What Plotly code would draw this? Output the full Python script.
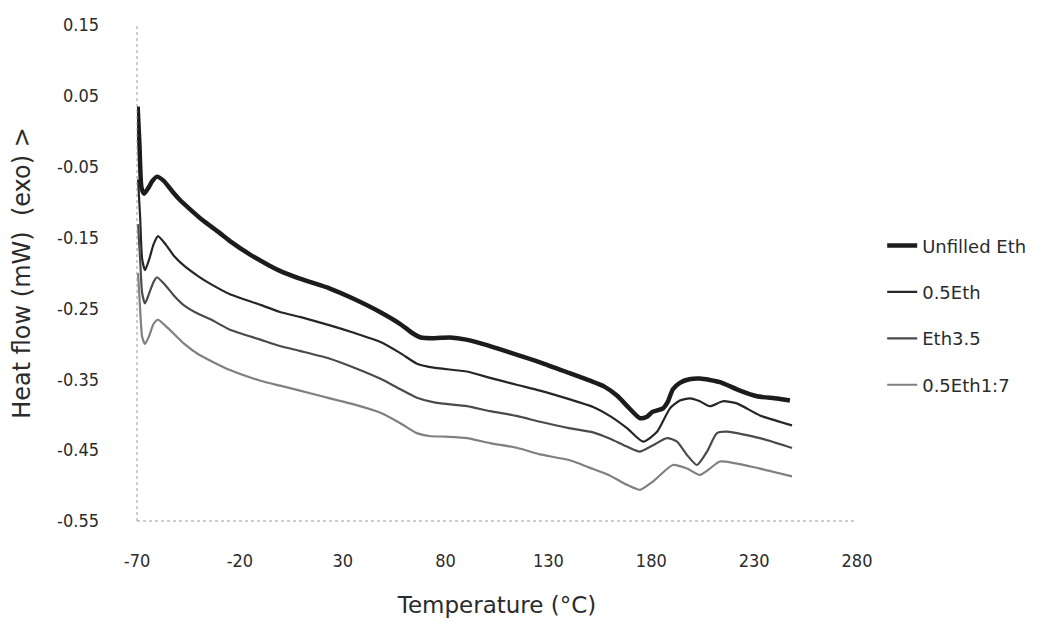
import plotly.graph_objects as go

# ---- data ----
unfilled_T = [-69.7, -68.8, -67.8, -66.5, -64.5, -62.5, -60.3, -57.0, -52.5, -49.1, -45.0, -37.9, -30.0, -24.8,
              -15.0, -5.3, -0.5, 9.2, 23.8, 35.0, 48.1, 58.0, 64.0, 68.0, 74.0, 82.2, 90.0, 96.7, 110.0, 125.9,
              140.0, 150.2, 157.0, 163.3, 169.0, 174.5, 177.9, 180.5, 182.8, 185.7, 188.0, 190.5, 193.9, 198.5,
              203.6, 208.5, 213.4, 223.1, 231.4, 241.1, 247.4]
unfilled_y = [0.035, -0.020, -0.080, -0.088, -0.080, -0.070, -0.064, -0.070, -0.086, -0.097, -0.108, -0.126,
              -0.143, -0.155, -0.174, -0.190, -0.197, -0.208, -0.222, -0.236, -0.255, -0.272, -0.285, -0.291,
              -0.292, -0.291, -0.294, -0.299, -0.311, -0.326, -0.341, -0.352, -0.360, -0.373, -0.390, -0.405,
              -0.403, -0.396, -0.394, -0.391, -0.382, -0.364, -0.355, -0.350, -0.349, -0.351, -0.354, -0.366,
              -0.374, -0.377, -0.380]

eth05_T = [-69.5, -68.5, -67.5, -66.1, -64.0, -62.0, -59.8, -56.0, -52.0, -47.0, -40.0, -34.5, -24.8, -10.0,
           -0.5, 9.2, 23.8, 35.0, 48.1, 58.0, 66.1, 75.0, 90.4, 101.6, 115.0, 125.9, 140.0, 151.7, 160.0,
           168.2, 176.0, 182.8, 189.1, 193.9, 198.8, 203.6, 208.5, 214.8, 221.6, 232.8, 248.4]
eth05_y = [-0.068, -0.120, -0.180, -0.196, -0.180, -0.160, -0.148, -0.160, -0.176, -0.190, -0.205, -0.215,
           -0.230, -0.245, -0.255, -0.262, -0.274, -0.284, -0.297, -0.313, -0.328, -0.334, -0.339, -0.348,
           -0.358, -0.366, -0.378, -0.389, -0.402, -0.419, -0.438, -0.424, -0.391, -0.380, -0.377, -0.381,
           -0.388, -0.381, -0.384, -0.401, -0.415]

eth35_T = [-69.5, -68.5, -67.5, -66.1, -64.0, -62.0, -60.3, -56.0, -52.0, -47.0, -40.0, -34.5, -24.8, -10.0,
           -0.5, 9.2, 23.8, 35.0, 48.1, 58.0, 66.1, 75.0, 90.4, 101.6, 115.0, 125.9, 140.0, 151.7, 160.0,
           168.2, 174.5, 180.9, 187.6, 192.5, 197.4, 202.2, 207.1, 211.9, 216.8, 232.8, 248.4]
eth35_y = [-0.131, -0.180, -0.228, -0.243, -0.228, -0.213, -0.206, -0.218, -0.232, -0.246, -0.258, -0.265,
           -0.280, -0.294, -0.303, -0.310, -0.321, -0.333, -0.349, -0.364, -0.376, -0.383, -0.388, -0.395,
           -0.402, -0.410, -0.419, -0.425, -0.434, -0.445, -0.452, -0.443, -0.433, -0.438, -0.457, -0.471,
           -0.452, -0.426, -0.424, -0.433, -0.447]

eth0517_T = [-69.5, -68.5, -67.5, -66.1, -64.0, -62.0, -59.8, -56.0, -52.0, -47.0, -40.0, -24.8, -10.0, -0.5,
             9.2, 23.8, 35.0, 48.1, 58.0, 66.0, 72.0, 80.0, 90.4, 101.6, 115.0, 125.9, 140.0, 150.2, 160.0,
             168.2, 174.5, 180.9, 190.5, 197.4, 203.6, 208.5, 213.4, 232.8, 248.4]
eth0517_y = [-0.200, -0.250, -0.290, -0.300, -0.288, -0.272, -0.266, -0.275, -0.286, -0.300, -0.315, -0.337,
             -0.352, -0.359, -0.366, -0.377, -0.385, -0.397, -0.412, -0.426, -0.430, -0.431, -0.433, -0.440,
             -0.447, -0.456, -0.464, -0.475, -0.486, -0.499, -0.506, -0.494, -0.471, -0.476, -0.485, -0.476,
             -0.466, -0.476, -0.487]

series_names = ["Unfilled Eth", "0.5Eth", "Eth3.5", "0.5Eth1:7"]
series_T = [unfilled_T, eth05_T, eth35_T, eth0517_T]
series_y = [unfilled_y, eth05_y, eth35_y, eth0517_y]
series_colors = ["#1c1c1c", "#262626", "#4a4a4a", "#808080"]
series_widths = [4.5, 2.2, 2.2, 2.2]

x_ticks = [-70, -20, 30, 80, 130, 180, 230, 280]
y_ticks = [0.15, 0.05, -0.05, -0.15, -0.25, -0.35, -0.45, -0.55]

fig = go.Figure()
for i, (name, T, y, c, w) in enumerate(zip(series_names, series_T, series_y, series_colors, series_widths)):
    fig.add_trace(go.Scatter(
        x=T, y=y, mode="lines", name=name, legendgroup=f"g{i}",
        line=dict(color=c, width=w, shape="spline", smoothing=0.6),
    ))

tick_font = "DejaVu Sans Condensed, Liberation Sans Narrow, sans-serif"
text_font = "DejaVu Sans, Verdana, sans-serif"

# the page body has an 8px margin, so the figure is slightly smaller than the window
fig.update_layout(
    width=1031, height=615,
    margin=dict(l=129, r=182, t=17, b=102, autoexpand=False),
    paper_bgcolor="white", plot_bgcolor="white",
    font=dict(family=text_font, color="#2b2b2b", size=16),
    showlegend=True,
    legend=dict(x=1.035, y=0.592, xanchor="left", yanchor="top",
                font=dict(family=text_font, size=18, color="#2b2b2b"),
                tracegroupgap=20, traceorder="grouped", bgcolor="rgba(0,0,0,0)"),
    xaxis=dict(range=[-70, 280], tickmode="array", tickvals=x_ticks,
               ticktext=[str(v) for v in x_ticks], showgrid=False, zeroline=False, showline=False,
               ticks="", ticklabelstandoff=27, automargin=False,
               tickfont=dict(family=tick_font, size=18, color="#2b2b2b"),
               title=dict(text="Temperature (°C)", font=dict(family=text_font, size=23), standoff=26)),
    yaxis=dict(range=[-0.55, 0.15], tickmode="array", tickvals=y_ticks,
               ticktext=[f"{v:.2f}" for v in y_ticks], showgrid=False, zeroline=False, showline=False,
               ticks="", ticklabelstandoff=37, automargin=False,
               tickfont=dict(family=tick_font, size=18, color="#2b2b2b"),
               title=dict(text="Heat flow (mW)  (exo) >", font=dict(family=text_font, size=24), standoff=21)),
    shapes=[
        dict(type="line", xref="paper", yref="paper", x0=0, x1=0, y0=0, y1=1,
             line=dict(color="#9a9a9a", width=1, dash="dot")),
        dict(type="line", xref="paper", yref="paper", x0=0, x1=1, y0=0, y1=0,
             line=dict(color="#9a9a9a", width=1, dash="dot")),
    ],
)

fig.write_html("out.html")
